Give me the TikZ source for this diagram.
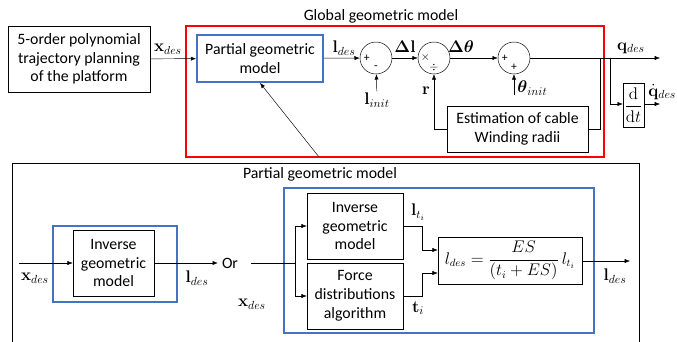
\documentclass[tikz,border=0pt]{standalone}
\usepackage{amsmath}
\usepackage[no-math]{fontspec}
\setmainfont{Carlito}
\usetikzlibrary{arrows.meta}
\definecolor{blu}{HTML}{4472C4}

\begin{document}
\begin{tikzpicture}[x=0.03cm, y=-0.03cm,
        every node/.style={font=\fontsize{13.5}{16}\selectfont},
        blk/.style={draw, thin, align=center, inner sep=1pt},
        sumc/.style={draw, thin, circle, minimum size=0.96cm, inner sep=0pt},
        sgn/.style={font=\fontsize{10}{10}\selectfont, inner sep=0pt},
        lab/.style={font=\fontsize{14.5}{16}\selectfont, inner sep=1pt},
        sig/.style={thin, -{Latex[length=4.5pt,width=3.5pt]}},
        frame/.style={line width=1.6pt}]
        \def\lbl(#1)#2{node[lab] at (#1) {$#2$}}
        \useasboundingbox (0,0) rectangle (677,342);

        % global geometric model
        \draw[frame, red] (186,26) rectangle (604,157);
        \node (gtitle) at (381,16) {Global geometric model};
        \node[blk, minimum width=4.26cm, minimum height=1.98cm] (plan) at (79,59)
            {5-order polynomial\\trajectory planning\\of the platform};
        \node[blk, draw=blu, frame, minimum width=3.78cm, minimum height=1.41cm] (pgm) at (260,58.5)
            {Partial geometric\\model};
        \node[sumc] (sum1) at (376,58) {};
        \node[sumc] (div) at (434,58) {};
        \node[sumc] (sum2) at (514,58) {};
        \node[sgn] at ([xshift=-0.28cm]sum1.center) {+};
        \node[sgn] at ([yshift=-0.28cm]sum1.center) {-};
        \node[sgn] at ([xshift=-0.26cm]div.center) {$\times$};
        \node[sgn] at ([yshift=-0.28cm]div.center) {$\div$};
        \node[sgn] at ([xshift=-0.28cm]sum2.center) {+};
        \node[sgn] at ([yshift=-0.28cm]sum2.center) {+};
        \node[blk, minimum width=4.23cm, minimum height=1.38cm] (est) at (517.5,129)
            {Estimation of cable\\Winding radii};
        \node[blk, minimum width=0.63cm, minimum height=1.32cm, inner sep=0pt] (ddt) at (633.5,105)
            {$\dfrac{\mathrm{d}}{\mathrm{d}t}$};
        \node[lab] (linit) at (377,100) {$\mathbf{l}_{init}$};
        \coordinate (tinit) at (514,95);
        \coordinate (j1) at (600,58);
        \coordinate (j2) at (610,58);
        \coordinate (qend) at (660,58);
        \coordinate (qdend) at (660,104);
        \coordinate (link) at (319,157);

        \draw[sig] (plan) -- (pgm) \lbl(168,49){\mathbf{x}_{des}};
        \draw[sig] (pgm) -- (sum1) \lbl(344,48){\mathbf{l}_{des}};
        \draw[sig] (linit) -- (sum1);
        \draw[sig] (sum1) -- (div) \lbl(405,47){\mathbf{\Delta l}};
        \draw[sig] (div) -- (sum2) \lbl(461,47){\boldsymbol{\Delta\theta}};
        \draw[sig] (tinit) -- (sum2) node[lab, anchor=west] at (516,88) {$\boldsymbol{\theta}_{init}$};
        \draw[sig] (sum2) -- (qend) \lbl(631,48){\mathbf{q}_{des}};
        \draw[thin] (j1) |- (est.east);
        \draw[sig] (est.west) -| (div.south) \lbl(426,91){\mathbf{r}};
        \draw[sig] (j2) |- (ddt.west |- qdend);
        \draw[sig] (ddt.east |- qdend) -- (qdend) node[lab, anchor=west] at (647,92) {$\dot{\mathbf{q}}_{des}$};
        \draw[sig] (link) -- (pgm.south);

        % partial geometric model
        \draw[thin] (12,345) |- (639,163) -- (639,345);
        \node (ptitle) at (320,174) {Partial geometric model};
        \draw[frame, blu] (53,226) rectangle (177,302);
        \draw[frame, blu] (284,188) rectangle (594,333);
        \node[blk, minimum width=2.43cm, minimum height=1.98cm] (inv1) at (113.5,263)
            {Inverse\\geometric\\model};
        \node (or) at (230,263) {Or};
        \node[blk, minimum width=2.88cm, minimum height=1.98cm] (inv2) at (355,226)
            {Inverse\\geometric\\model};
        \node[blk, minimum width=2.88cm, minimum height=1.98cm] (force) at (355,296)
            {Force\\distributions\\algorithm};
        \node[blk, minimum width=4.32cm, minimum height=1.41cm] (form) at (510,260.5)
            {$l_{des}=\dfrac{ES}{(t_i+ES)}\,l_{t_i}$};
        \coordinate (xin) at (19,263);
        \coordinate (xs) at (251,263);
        \coordinate (split) at (295,263);
        \coordinate (lend) at (630,261);

        \draw[sig] (xin) -- (inv1) \lbl(35,278){\mathbf{x}_{des}};
        \draw[sig] (inv1) -- (or) \lbl(197,278){\mathbf{l}_{des}};
        \draw[thin] (xs) -- (split) \lbl(252,304){\mathbf{x}_{des}};
        \draw[sig] (split) |- (inv2);
        \draw[sig] (split) |- (force);
        \draw[sig] (inv2.east) -- ++(19,0) |- (form.west |- 0,250) \lbl(418,212){\mathbf{l}_{t_i}};
        \draw[sig] (force.east) -- ++(19,0) |- (form.west |- 0,273) \lbl(418,308){\mathbf{t}_i};
        \draw[sig] (form.east |- lend) -- (lend) \lbl(615,276){\mathbf{l}_{des}};
    \end{tikzpicture}
\end{document}
